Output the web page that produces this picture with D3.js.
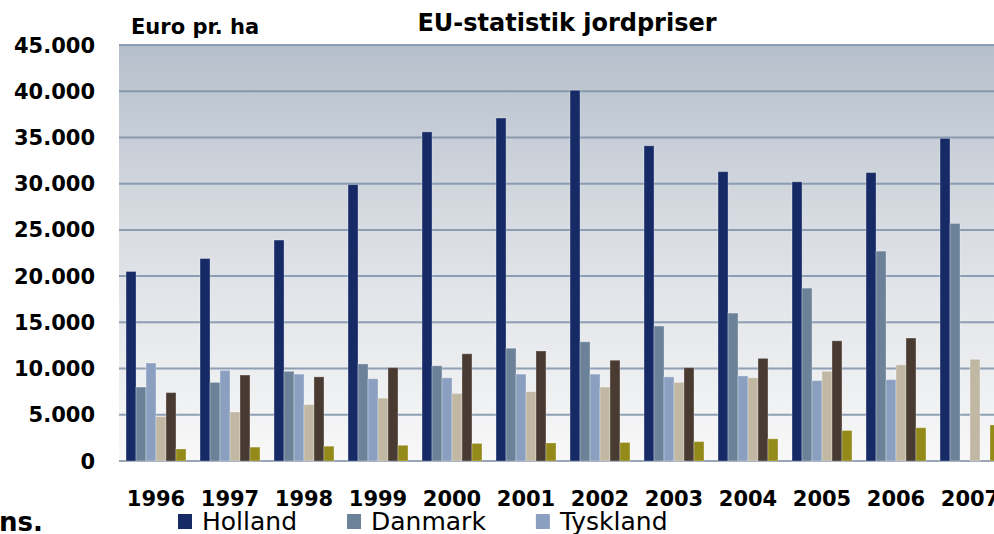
<!DOCTYPE html>
<html>
<head>
<meta charset="utf-8">
<script src="https://d3js.org/d3.v7.min.js"></script>
<style>
  body { margin: 0; background: #fff; }
  svg { display: block; font-family: "DejaVu Sans", Verdana, sans-serif; }
</style>
</head>
<body>
<svg id="chart" width="994" height="534"></svg>
<script>
// values (Euro pr. ha)
var years = ["1996","1997","1998","1999","2000","2001","2002","2003","2004","2005","2006","2007"];
var holland  = [20500, 21900, 23900, 29900, 35600, 37100, 40100, 34100, 31300, 30200, 31200, 34900];
var danmark  = [8000, 8500, 9700, 10500, 10300, 12200, 12900, 14600, 16000, 18700, 22700, 25700];
var tyskland = [10600, 9800, 9400, 8900, 9000, 9400, 9400, 9100, 9200, 8700, 8800, null];
var serie4   = [4800, 5300, 6100, 6800, 7300, 7500, 8000, 8500, 9000, 9700, 10400, 11000];
var serie5   = [7400, 9300, 9100, 10100, 11600, 11900, 10900, 10100, 11100, 13000, 13300, null];
var serie6   = [1300, 1500, 1600, 1700, 1900, 1950, 2000, 2100, 2400, 3300, 3600, 3900];
var yTicks = [0, 5000, 10000, 15000, 20000, 25000, 30000, 35000, 40000, 45000];

var series = [
  {key: "Holland",  values: holland,  color: "#162a66"},
  {key: "Danmark",  values: danmark,  color: "#6c8299"},
  {key: "Tyskland", values: tyskland, color: "#8ba0c0"},
  {key: "s4",       values: serie4,   color: "#c1b8a4"},
  {key: "s5",       values: serie5,   color: "#493a32"},
  {key: "s6",       values: serie6,   color: "#948a19"}
];
var legendKeys = ["Holland", "Danmark", "Tyskland"];

// plot box (right edge runs past the window, as in the picture)
var plotL = 119, plotR = 1007, plotT = 45, plotB = 461;

var svg = d3.select("#chart");

var x0 = d3.scaleBand().domain(years).range([plotL, plotR]).paddingInner(0.19).paddingOuter(0.095);
var x1 = d3.scaleBand().domain(series.map(function(s) { return s.key; })).range([0, x0.bandwidth()]);
var y = d3.scaleLinear().domain([0, 45000]).range([plotB, plotT]);

// plot background gradient
var grad = svg.append("defs").append("linearGradient")
  .attr("id", "bg").attr("x1", 0).attr("y1", 0).attr("x2", 0).attr("y2", 1);
grad.append("stop").attr("offset", "0%").attr("stop-color", "#b5bfcb");
grad.append("stop").attr("offset", "45%").attr("stop-color", "#d9dde3");
grad.append("stop").attr("offset", "100%").attr("stop-color", "#f8f8f8");

svg.append("rect")
  .attr("x", plotL).attr("y", plotT)
  .attr("width", plotR - plotL).attr("height", plotB - plotT)
  .attr("fill", "url(#bg)");

// gridlines
svg.append("g").selectAll("line").data(yTicks).enter()
  .append("line")
  .attr("x1", plotL).attr("x2", plotR)
  .attr("y1", function(d) { return y(d); })
  .attr("y2", function(d) { return y(d); })
  .attr("stroke", function(d) { return d == 0 ? "#8797aa" : "#7c90a8"; })
  .attr("stroke-opacity", 0.85)
  .attr("stroke-width", 2);

// bars
var groups = svg.append("g").selectAll("g").data(years).enter()
  .append("g")
  .attr("transform", function(d) { return "translate(" + x0(d) + ",0)"; });

groups.selectAll("rect")
  .data(function(d, i) {
    return series.map(function(s) { return {key: s.key, color: s.color, value: s.values[i]}; })
      .filter(function(e) { return e.value != null; });
  })
  .enter().append("rect")
  .attr("x", function(d) { return x1(d.key); })
  .attr("y", function(d) { return y(d.value); })
  .attr("width", x1.bandwidth())
  .attr("height", function(d) { return y(0) - y(d.value); })
  .attr("fill", function(d) { return d.color; })
  .attr("stroke", "#ffffff")
  .attr("stroke-opacity", 0.3)
  .attr("stroke-width", 1);

// y axis labels
svg.append("g").selectAll("text").data(yTicks).enter()
  .append("text")
  .attr("x", 95)
  .attr("y", function(d) { return y(d) + 7.5; })
  .attr("text-anchor", "end")
  .style("font-size", "21px").style("font-weight", "bold")
  .text(function(d) { return d3.format(",")(d).replace(/,/g, "."); });

// x axis labels
svg.append("g").selectAll("text").data(years).enter()
  .append("text")
  .attr("x", function(d) { return x0(d) + x0.bandwidth() / 2; })
  .attr("y", 506)
  .attr("text-anchor", "middle")
  .style("font-size", "21px").style("font-weight", "bold")
  .text(function(d) { return d; });

// titles
svg.append("text")
  .attr("x", 567).attr("y", 31)
  .attr("text-anchor", "middle")
  .style("font-size", "24px").style("font-weight", "bold")
  .text("EU-statistik jordpriser");

svg.append("text")
  .attr("x", 131).attr("y", 34)
  .style("font-size", "21px").style("font-weight", "bold")
  .text("Euro pr. ha");

svg.append("text")
  .attr("x", -1).attr("y", 531)
  .style("font-size", "26px").style("font-weight", "bold")
  .text("ns.");

// legend
var lx = 178;
legendKeys.forEach(function(k) {
  var s = series.filter(function(e) { return e.key == k; })[0];
  svg.append("rect").attr("x", lx).attr("y", 514).attr("width", 14).attr("height", 15).attr("fill", s.color);
  var t = svg.append("text").attr("x", lx + 24).attr("y", 530)
    .style("font-size", "25px").text(k);
  lx = lx + 24 + t.node().getComputedTextLength() + 50;
});
</script>
</body>
</html>
